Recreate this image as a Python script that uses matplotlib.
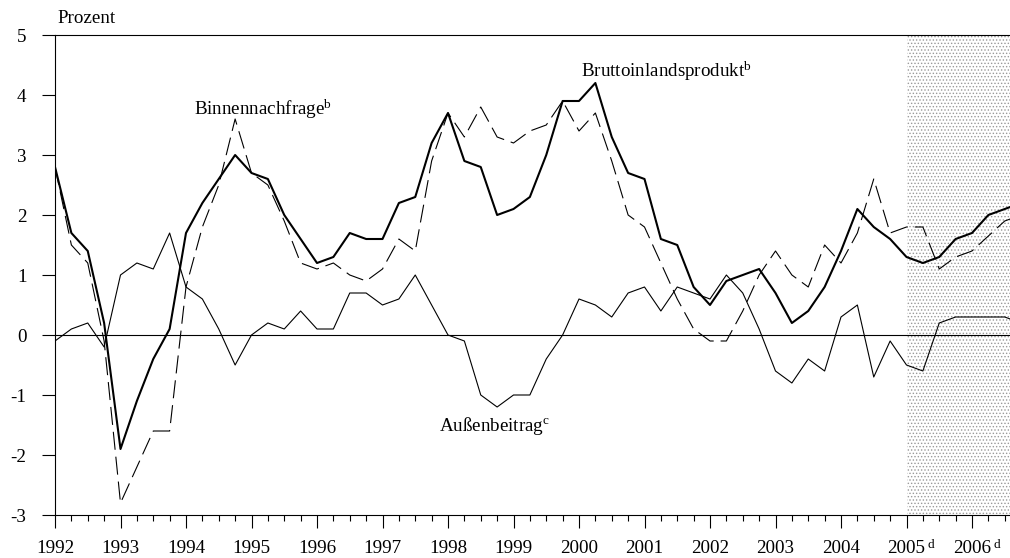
import numpy as np
import matplotlib
matplotlib.use("Agg")
import matplotlib.pyplot as plt
from matplotlib.ticker import MultipleLocator, FixedLocator

# Quarterly changes (Prozent), 1992 Q1 .. 2006 Q4
quarters = 1992 + np.arange(60) / 4.0

bip = [
    2.8, 1.7, 1.4, 0.2,
    -1.9, -1.1, -0.4, 0.1,
    1.7, 2.2, 2.6, 3.0,
    2.7, 2.6, 2.0, 1.6,
    1.2, 1.3, 1.7, 1.6,
    1.6, 2.2, 2.3, 3.2,
    3.7, 2.9, 2.8, 2.0,
    2.1, 2.3, 3.0, 3.9,
    3.9, 4.2, 3.3, 2.7,
    2.6, 1.6, 1.5, 0.8,
    0.5, 0.9, 1.0, 1.1,
    0.7, 0.2, 0.4, 0.8,
    1.4, 2.1, 1.8, 1.6,
    1.3, 1.2, 1.3, 1.6,
    1.7, 2.0, 2.1, 2.2,
]

binnennachfrage = [
    2.8, 1.5, 1.2, -0.1,
    -2.8, -2.2, -1.6, -1.6,
    0.8, 1.8, 2.5, 3.6,
    2.7, 2.5, 1.9, 1.2,
    1.1, 1.2, 1.0, 0.9,
    1.1, 1.6, 1.4, 2.9,
    3.7, 3.3, 3.8, 3.3,
    3.2, 3.4, 3.5, 3.9,
    3.4, 3.7, 2.9, 2.0,
    1.8, 1.2, 0.6, 0.1,
    -0.1, -0.1, 0.4, 1.0,
    1.4, 1.0, 0.8, 1.5,
    1.2, 1.7, 2.6, 1.7,
    1.8, 1.8, 1.1, 1.3,
    1.4, 1.65, 1.9, 2.0,
]

aussenbeitrag = [
    -0.1, 0.1, 0.2, -0.2,
    1.0, 1.2, 1.1, 1.7,
    0.8, 0.6, 0.1, -0.5,
    0.0, 0.2, 0.1, 0.4,
    0.1, 0.1, 0.7, 0.7,
    0.5, 0.6, 1.0, 0.5,
    0.0, -0.1, -1.0, -1.2,
    -1.0, -1.0, -0.4, 0.0,
    0.6, 0.5, 0.3, 0.7,
    0.8, 0.4, 0.8, 0.7,
    0.6, 1.0, 0.7, 0.1,
    -0.6, -0.8, -0.4, -0.6,
    0.3, 0.5, -0.7, -0.1,
    -0.5, -0.6, 0.2, 0.3,
    0.3, 0.3, 0.3, 0.2,
]

years = list(range(1992, 2007))
year_labels = [str(y) for y in years]
forecast_years = [2005, 2006]
y_ticks = list(range(-3, 6))
y_labels = [str(v) for v in y_ticks]

plt.rcParams["font.family"] = ["Liberation Serif", "DejaVu Serif"]
plt.rcParams["mathtext.fontset"] = "custom"
plt.rcParams["mathtext.rm"] = "Liberation Serif"
plt.rcParams["mathtext.it"] = "Liberation Serif:italic"
plt.rcParams["lines.scale_dashes"] = False
plt.rcParams["hatch.linewidth"] = 0.6

FS = 13.7
W, H = 1010, 558
fig = plt.figure(figsize=(W / 100, H / 100), dpi=100)
ax = fig.add_axes([55 / W, 1 - 515 / H, 955 / W, 480 / H])

# forecast period, stippled
ax.axvspan(2005, 2008, facecolor="white", edgecolor="#9a9a9a",
           hatch=".....", linewidth=0, zorder=0)

ax.axhline(0, color="black", lw=0.8, zorder=1)

ax.plot(quarters, aussenbeitrag, color="black", lw=0.8, zorder=2)
ax.plot(quarters, binnennachfrage, color="black", lw=0.8,
        dashes=(13, 5), zorder=3)
ax.plot(quarters, bip, color="black", lw=1.5, zorder=4)

ax.set_xlim(1992, 1992 + 955 / 65.5)
ax.set_ylim(-3, 5)

ax.xaxis.set_major_locator(FixedLocator(years))
ax.set_xticklabels(year_labels, fontsize=FS)
ax.xaxis.set_minor_locator(MultipleLocator(0.25))
ax.set_yticks(y_ticks)
ax.set_yticklabels(y_labels, fontsize=FS)

ax.tick_params(axis="x", which="major", direction="out", length=9.5,
               width=0.8, pad=8.5)
ax.tick_params(axis="x", which="minor", direction="out", length=4,
               width=0.8)
ax.tick_params(axis="y", which="major", direction="out", length=9.5,
               width=0.8, pad=11)

for side in ("left", "bottom", "top"):
    ax.spines[side].set_linewidth(0.8)
ax.spines["right"].set_visible(False)

# superscript "d" for forecast years
for fy in forecast_years:
    ax.annotate("d", xy=(fy, -3), xycoords="data", xytext=(21, -33),
                textcoords="offset pixels", ha="left", va="baseline",
                fontsize=9.5, annotation_clip=False)

ax.annotate("Prozent", xy=(0, 1), xycoords="axes fraction", xytext=(2, 12),
            textcoords="offset pixels", ha="left", va="baseline", fontsize=FS)

ax.text(1995.17, 3.67, r"Binnennachfrage$^{\mathrm{b}}$", ha="center",
        va="baseline", fontsize=FS)
ax.text(2001.34, 4.3, r"Bruttoinlandsprodukt$^{\mathrm{b}}$", ha="center",
        va="baseline", fontsize=FS)
ax.text(1998.71, -1.6, r"Außenbeitrag$^{\mathrm{c}}$", ha="center",
        va="baseline", fontsize=FS)

fig.savefig("out.png", dpi=100)
